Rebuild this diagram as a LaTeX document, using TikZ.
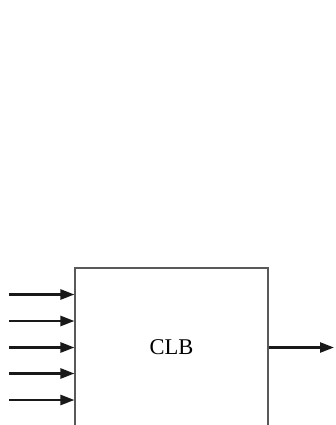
\documentclass[tikz,border=0pt]{standalone}
\usepackage{fontspec}
\setmainfont{Liberation Serif}
\usetikzlibrary{arrows.meta}
\begin{document}
\begin{tikzpicture}[x=1pt,y=-1pt,
  sig/.style={line width=2.5pt,color=black!90,-{Triangle[length=14pt,width=10pt]}},
  blk/.style={draw=black!65,line width=1.1pt,rectangle,inner sep=0pt}]
\useasboundingbox (0,0) rectangle (335,425);
\clip (0,0) rectangle (335,425);
\node[blk,minimum width=193pt,minimum height=200pt] (box) at (171.5,368) {};
\node[font=\fontsize{22.5}{26}\selectfont] (clb) at (171.5,347.5) {CLB};
\foreach \i/\y in {1/294.5,2/321,3/347.5,4/373.5,5/400}{
  \coordinate (in\i) at (9,\y);
  \draw[sig] (in\i) -- (in\i -| box.west);
}
\coordinate (out) at (334,347.5);
\draw[sig] (out -| box.east) -- (out);
\end{tikzpicture}
\end{document}
